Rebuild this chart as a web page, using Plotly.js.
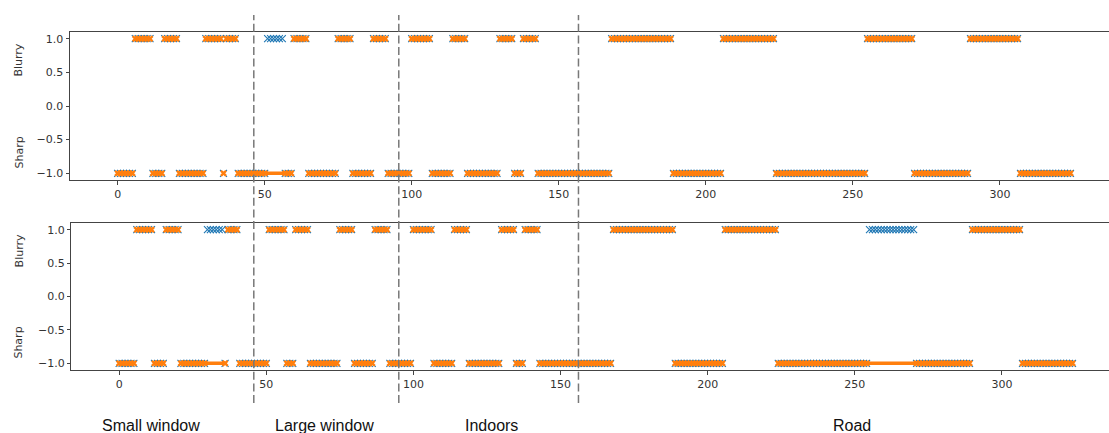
<!DOCTYPE html>
<html>
<head>
<meta charset="utf-8">
<script src="https://cdn.plot.ly/plotly-3.0.1.min.js"></script>
<style>
  html, body { margin: 0; padding: 0; background: #fff; }
  #chart { width: 1109px; height: 433px; }
</style>
</head>
<body>
<div id="chart"></div>
<script>
// Ground-truth label runs: each run starts at a frame and lasts until the next run starts.
const runStart = [0, 6, 12, 16, 21, 30, 36, 37, 41, 51, 57, 60, 65, 75, 80, 87, 92, 100,
                  107, 114, 119, 130, 135, 138, 143, 168, 189, 206, 224, 255, 271, 290, 307];
const runLabel = [-1, 1, -1, 1, -1, 1, -1, 1, -1, 1, -1, 1, -1, 1, -1, 1, -1, 1,
                  -1, 1, -1, 1, -1, 1, -1, 1, -1, 1, -1, 1, -1, 1, -1];
const lastFrame = 324;

// Frame ranges where each classifier gets the label wrong
const topWrongStart = [51];
const topWrongEnd = [56];
const bottomWrongStart = [30, 255];
const bottomWrongEnd = [35, 270];

// Axis ticks and labels
const xTicks = [0, 50, 100, 150, 200, 250, 300];
const yTicks = [-1, -0.5, 0, 0.5, 1];
const rowNames = ['Blurry', 'Sharp'];
const rowNameY = [0.69, -0.69];

// Recording scenes along the frame axis
const sceneNames = ['Small window', 'Large window', 'Indoors', 'Road'];
const sceneLabelX = [11.5, 70.5, 127, 249.7];
const sceneBounds = [46.3, 95.6, 156.7];

const BLUE = '#1f77b4';
const ORANGE = '#ff7f0e';

// Expand the runs into one value per frame
const frames = [];
const truth = [];
runStart.forEach((s, i) => {
  const e = i + 1 < runStart.length ? runStart[i + 1] - 1 : lastFrame;
  for (let f = s; f <= e; f++) { frames.push(f); truth.push(runLabel[i]); }
});

function predicted(wrongStart, wrongEnd) {
  return truth.map((v, i) => {
    const f = frames[i];
    const wrong = wrongStart.some((s, k) => f >= s && f <= wrongEnd[k]);
    return wrong ? -v : v;
  });
}

function tracesFor(pred, xa, ya) {
  // orange line, broken wherever the predicted label switches
  const lx = [], ly = [];
  pred.forEach((v, i) => {
    if (i > 0 && v !== pred[i - 1]) { lx.push(null); ly.push(null); }
    lx.push(frames[i]); ly.push(v);
  });
  const mx = [], my = [];
  pred.forEach((v, i) => { if (v === truth[i]) { mx.push(frames[i]); my.push(v); } });
  return [
    { x: frames, y: truth, xaxis: xa, yaxis: ya, type: 'scatter', mode: 'markers',
      marker: { symbol: 'x-thin', size: 7, color: BLUE, line: { width: 1.1, color: BLUE } },
      hoverinfo: 'skip', showlegend: false },
    { x: lx, y: ly, xaxis: xa, yaxis: ya, type: 'scatter', mode: 'lines',
      line: { color: ORANGE, width: 3.5 }, connectgaps: false,
      hoverinfo: 'skip', showlegend: false },
    { x: mx, y: my, xaxis: xa, yaxis: ya, type: 'scatter', mode: 'markers',
      marker: { symbol: 'x', size: 6, color: ORANGE, line: { width: 0 } },
      hoverinfo: 'skip', showlegend: false }
  ];
}

const data = [
  ...tracesFor(predicted(topWrongStart, topWrongEnd), 'x', 'y'),
  ...tracesFor(predicted(bottomWrongStart, bottomWrongEnd), 'x2', 'y2')
];

const tickFont = { family: 'DejaVu Sans', size: 11, color: '#333' };
const axisLine = '#444';

function xAxis(domain, range, anchor) {
  return {
    domain: domain, range: range, anchor: anchor,
    tickmode: 'array', tickvals: xTicks, ticks: 'outside', ticklen: 3.5, tickwidth: 1,
    tickcolor: axisLine, showline: true, linecolor: axisLine, linewidth: 1, mirror: true,
    showgrid: false, zeroline: false, tickfont: tickFont
  };
}
function yAxis(domain, anchor) {
  return {
    domain: domain, range: [-1.1, 1.1], anchor: anchor,
    tickmode: 'array', tickvals: yTicks, tickformat: '.1f', ticks: 'outside', ticklen: 3.5,
    tickwidth: 1, tickcolor: axisLine, showline: true, linecolor: axisLine, linewidth: 1,
    showgrid: false, zeroline: false, tickfont: tickFont
  };
}

const annotations = [];
['y', 'y2'].forEach(ya => {
  rowNames.forEach((name, i) => {
    annotations.push({ text: name, xref: 'paper', yref: ya, x: -0.0491, y: rowNameY[i],
      xanchor: 'center', yanchor: 'middle', textangle: -90, showarrow: false,
      font: { family: 'DejaVu Sans', size: 11, color: '#333' } });
  });
});
sceneNames.forEach((name, i) => {
  annotations.push({ text: name, xref: 'x', yref: 'paper', x: sceneLabelX[i], y: -0.163,
    xanchor: 'center', yanchor: 'middle', showarrow: false,
    font: { family: 'Liberation Sans, Arial, sans-serif', size: 16, color: '#111' } });
});

const shapes = sceneBounds.map(b => ({
  type: 'line', xref: 'x', yref: 'paper', x0: b, x1: b, y0: -0.0976, y1: 1.0503,
  line: { color: 'rgb(120,120,120)', width: 1.5, dash: '8px,3.6px' }
}));

const layout = {
  width: 1109, height: 433,
  margin: { l: 70, r: 0, t: 32, b: 63, pad: 0 },
  paper_bgcolor: '#fff', plot_bgcolor: '#fff',
  showlegend: false,
  xaxis: xAxis([0, 1], [-16.2, 337.1], 'y'),
  yaxis: yAxis([0.5621, 1], 'x'),
  xaxis2: xAxis([0.00144, 1], [-16.2, 336.4], 'y2'),
  yaxis2: yAxis([0, 0.4349], 'x2'),
  annotations: annotations,
  shapes: shapes
};

Plotly.newPlot('chart', data, layout, { staticPlot: true, displayModeBar: false });
</script>
</body>
</html>
